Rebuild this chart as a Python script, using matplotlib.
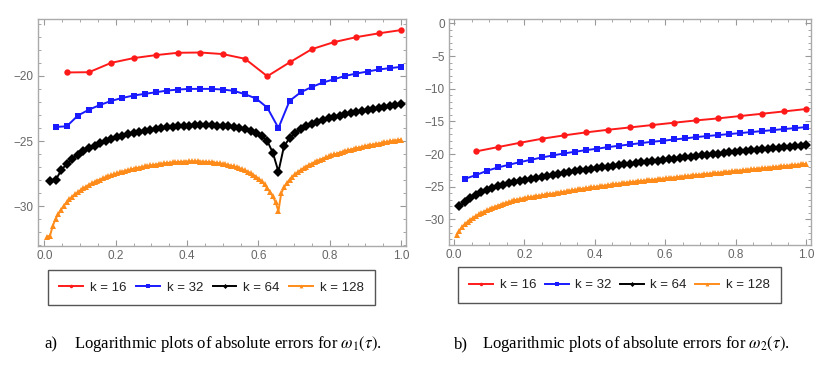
import numpy as np
import matplotlib.pyplot as plt
from matplotlib.ticker import MultipleLocator

# grid sizes and legend labels
ks = [16, 32, 64, 128]
labels = ["k = 16", "k = 32", "k = 64", "k = 128"]

# a) log10 abs error for omega_1, sampled at tau = j/k
w1_k16 = [-19.74, -19.72, -19.00, -18.64, -18.41, -18.23, -18.21, -18.33,
          -18.69, -20.03, -18.97, -17.95, -17.41, -17.03, -16.74, -16.49]
w1_k32 = [-23.92, -23.87, -23.05, -22.59, -22.23, -21.92, -21.69, -21.51,
          -21.38, -21.26, -21.13, -21.05, -21.00, -21.00, -21.00, -21.05,
          -21.15, -21.41, -21.74, -22.44, -24.00, -21.92, -21.26, -20.85,
          -20.51, -20.26, -20.00, -19.82, -19.67, -19.51, -19.41, -19.31]
w1_k64 = [-28.05, -28.00, -27.25, -26.75, -26.35, -26.05, -25.80, -25.55,
          -25.35, -25.15, -24.98, -24.83, -24.70, -24.58, -24.47, -24.37,
          -24.28, -24.20, -24.13, -24.06, -24.00, -23.95, -23.91, -23.87,
          -23.84, -23.82, -23.80, -23.79, -23.79, -23.80, -23.81, -23.84,
          -23.88, -23.93, -24.00, -24.09, -24.22, -24.40, -24.65, -25.00,
          -25.90, -27.35, -25.40, -24.77, -24.38, -24.08, -23.85, -23.67,
          -23.52, -23.38, -23.26, -23.15, -23.05, -22.95, -22.86, -22.77,
          -22.69, -22.61, -22.54, -22.47, -22.40, -22.33, -22.26, -22.15]
w1_k128 = [-32.33, -32.26, -31.50, -30.97, -30.59, -30.26, -29.95, -29.69,
           -29.46, -29.26, -29.08, -28.92, -28.76, -28.62, -28.49, -28.36,
           -28.25, -28.14, -28.04, -27.95, -27.86, -27.77, -27.69, -27.62,
           -27.55, -27.48, -27.41, -27.35, -27.29, -27.23, -27.18, -27.13,
           -27.08, -27.03, -26.99, -26.95, -26.91, -26.87, -26.84, -26.80,
           -26.77, -26.74, -26.71, -26.69, -26.66, -26.64, -26.62, -26.60,
           -26.59, -26.58, -26.57, -26.56, -26.56, -26.56, -26.56, -26.57,
           -26.58, -26.59, -26.61, -26.63, -26.65, -26.68, -26.71, -26.75,
           -26.79, -26.84, -26.89, -26.95, -27.01, -27.08, -27.16, -27.25,
           -27.35, -27.46, -27.59, -27.74, -27.91, -28.10, -28.33, -28.60,
           -28.90, -29.25, -29.70, -30.38, -29.00, -28.55, -28.22, -27.96,
           -27.74, -27.55, -27.38, -27.23, -27.09, -26.96, -26.84, -26.73,
           -26.62, -26.52, -26.43, -26.34, -26.26, -26.18, -26.10, -26.03,
           -25.96, -25.89, -25.83, -25.77, -25.71, -25.65, -25.60, -25.55,
           -25.50, -25.45, -25.40, -25.35, -25.31, -25.27, -25.23, -25.19,
           -25.15, -25.11, -25.07, -25.03, -25.00, -24.96, -24.93, -24.89]

# b) log10 abs error for omega_2
w2_k16 = [-19.59, -18.93, -18.27, -17.65, -17.14, -16.68, -16.28, -15.92,
          -15.56, -15.20, -14.85, -14.54, -14.18, -13.83, -13.47, -13.11]
w2_k32 = [-23.78, -23.21, -22.55, -22.04, -21.63, -21.22, -20.87, -20.51,
          -20.20, -19.90, -19.64, -19.39, -19.18, -18.93, -18.72, -18.52,
          -18.32, -18.11, -17.96, -17.76, -17.60, -17.40, -17.24, -17.09,
          -16.94, -16.79, -16.63, -16.48, -16.33, -16.17, -16.02, -15.87]
w2_k64 = [-27.96, -27.30, -26.75, -26.25, -25.80, -25.48, -25.18, -24.91,
          -24.66, -24.43, -24.20, -24.04, -23.89, -23.74, -23.60, -23.48,
          -23.36, -23.20, -23.05, -22.90, -22.75, -22.60, -22.48, -22.36,
          -22.24, -22.13, -22.02, -21.91, -21.80, -21.69, -21.57, -21.45,
          -21.36, -21.26, -21.17, -21.07, -20.98, -20.88, -20.79, -20.69,
          -20.60, -20.50, -20.40, -20.31, -20.21, -20.12, -20.03, -19.93,
          -19.84, -19.74, -19.65, -19.57, -19.49, -19.41, -19.33, -19.25,
          -19.17, -19.09, -19.01, -18.93, -18.85, -18.77, -18.69, -18.60]
w2_k128 = [-32.30, -31.70, -31.15, -30.72, -30.35, -30.03, -29.75, -29.48,
           -29.23, -29.00, -28.79, -28.59, -28.40, -28.22, -28.05, -27.89,
           -27.74, -27.60, -27.46, -27.32, -27.18, -27.05, -26.96, -26.87,
           -26.79, -26.71, -26.63, -26.56, -26.49, -26.42, -26.35, -26.29,
           -26.22, -26.16, -26.10, -26.03, -25.96, -25.89, -25.82, -25.75,
           -25.68, -25.61, -25.54, -25.47, -25.40, -25.34, -25.28, -25.22,
           -25.16, -25.10, -25.04, -24.98, -24.92, -24.87, -24.81, -24.75,
           -24.70, -24.64, -24.58, -24.53, -24.47, -24.42, -24.36, -24.30,
           -24.25, -24.21, -24.16, -24.12, -24.07, -24.03, -23.98, -23.94,
           -23.89, -23.85, -23.80, -23.76, -23.71, -23.67, -23.62, -23.58,
           -23.53, -23.49, -23.44, -23.40, -23.35, -23.30, -23.26, -23.21,
           -23.17, -23.13, -23.08, -23.04, -22.99, -22.95, -22.91, -22.86,
           -22.82, -22.78, -22.73, -22.69, -22.64, -22.60, -22.56, -22.52,
           -22.47, -22.43, -22.39, -22.35, -22.30, -22.26, -22.22, -22.18,
           -22.14, -22.09, -22.05, -22.01, -21.97, -21.92, -21.88, -21.84,
           -21.80, -21.75, -21.71, -21.67, -21.63, -21.58, -21.54, -21.50]

colors = ["#ff1a1a", "#1a1aff", "#000000", "#ff8c1a"]
markers = ["o", "s", "D", "^"]
msizes = [4.6, 5.0, 4.6, 5.0]

W, H = 836, 374
fig = plt.figure(figsize=(W / 100, H / 100), dpi=100)
plt.rcParams['font.family'] = ['Liberation Sans', 'DejaVu Sans']
plt.rcParams['mathtext.fontset'] = 'stix'


def make_axes(rect, series, xlim, ylim, ymajor):
    ax = fig.add_axes(rect)
    for k, y, c, m, ms, lab in zip(ks, series, colors, markers, msizes, labels):
        x = np.arange(1, k + 1) / k
        ax.plot(x, y, color=c, marker=m, markersize=ms, lw=1.4,
                markeredgewidth=0, label=lab)
    ax.set_xlim(*xlim)
    ax.set_ylim(*ylim)
    ax.xaxis.set_major_locator(MultipleLocator(0.2))
    ax.xaxis.set_minor_locator(MultipleLocator(0.05))
    ax.yaxis.set_major_locator(MultipleLocator(ymajor))
    ax.yaxis.set_minor_locator(MultipleLocator(1))
    ax.xaxis.set_major_formatter(plt.FuncFormatter(lambda v, p: f"{v:.1f}"))
    ax.tick_params(which='both', direction='in', top=True, right=True,
                   color='#999999', labelcolor='#666666', labelsize=8.5, pad=3)
    ax.tick_params(which='major', length=4, width=0.8)
    ax.tick_params(which='minor', length=2, width=0.6)
    for s in ax.spines.values():
        s.set_color('#aaaaaa')
        s.set_linewidth(1.0)
    return ax


ax1 = make_axes([38 / W, 1 - 246 / H, 368 / W, 227 / H],
                [w1_k16, w1_k32, w1_k64, w1_k128],
                (-0.018, 1.014), (-33.05, -15.64), 5)
ax2 = make_axes([449 / W, 1 - 245 / H, 362 / W, 226 / H],
                [w2_k16, w2_k32, w2_k64, w2_k128],
                (-0.014, 1.014), (-33.9, 0.66), 5)

for ax, box in [(ax1, (41, 269, 341, 37)), (ax2, (451, 267, 337, 36))]:
    x0, y0, w, h = box
    leg = ax.legend(loc='center', ncol=4, mode='expand',
                    bbox_to_anchor=(x0 / W, 1 - (y0 + h) / H, w / W, h / H),
                    bbox_transform=fig.transFigure, fontsize=9.5,
                    frameon=True, fancybox=False, framealpha=1,
                    borderpad=0.9, handlelength=1.8, handletextpad=0.5,
                    markerscale=0.55)
    leg.get_frame().set_edgecolor('#555555')
    leg.get_frame().set_linewidth(1.0)
    for t in leg.get_texts():
        t.set_color('#222222')

cap_y = 1 - 344 / H
fig.text(44 / W, cap_y, "a)", family='Liberation Serif', fontsize=12, va='center')
fig.text(74 / W, cap_y, r"Logarithmic plots of absolute errors for $\omega_1(\tau)$.",
         family='Liberation Serif', fontsize=12, va='center')
fig.text(454 / W, cap_y, "b)", family='Liberation Serif', fontsize=12, va='center')
fig.text(482 / W, cap_y, r"Logarithmic plots of absolute errors for $\omega_2(\tau)$.",
         family='Liberation Serif', fontsize=12, va='center')

fig.savefig("out.png", dpi=100)
